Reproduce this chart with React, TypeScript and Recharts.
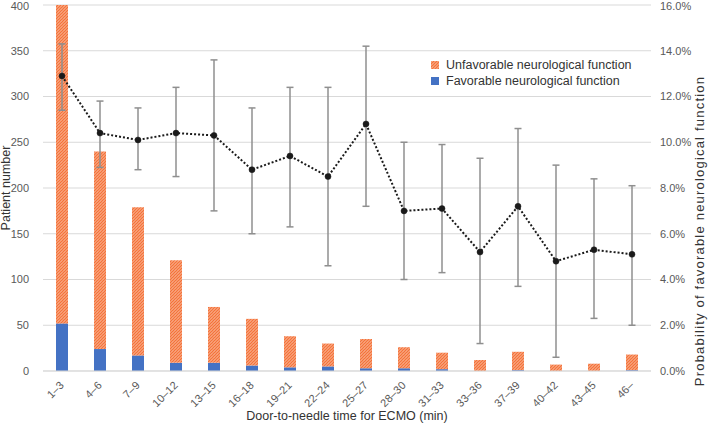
import React from 'react';
import { ComposedChart, Bar, Line, XAxis, YAxis, CartesianGrid, ErrorBar, Legend, Label } from 'recharts';

const categories = ['1–3', '4–6', '7–9', '10–12', '13–15', '16–18', '19–21', '22–24', '25–27', '28–30', '31–33', '33–36', '37–39', '40–42', '43–45', '46–'];
const favorable = [52, 24, 17, 9, 9, 6, 4, 5, 3, 3, 2, 0, 1, 0, 0, 1];
const unfavorable = [348, 216, 162, 112, 61, 51, 34, 25, 32, 23, 18, 12, 20, 7, 8, 17];
const probability = [12.9, 10.4, 10.1, 10.4, 10.3, 8.8, 9.4, 8.5, 10.8, 7.0, 7.1, 5.2, 7.2, 4.8, 5.3, 5.1];
const probabilityLow = [11.4, 8.9, 8.8, 8.5, 7.0, 6.0, 6.3, 4.6, 7.2, 4.0, 4.3, 1.2, 3.7, 0.6, 2.3, 2.0];
const probabilityHigh = [14.3, 11.8, 11.5, 12.4, 13.6, 11.5, 12.4, 12.4, 14.2, 10.0, 9.9, 9.3, 10.6, 9.0, 8.4, 8.1];
const leftTicks = [0, 50, 100, 150, 200, 250, 300, 350, 400];
const rightTicks = [0, 2, 4, 6, 8, 10, 12, 14, 16];

const data = categories.map((cat, i) => ({
  cat,
  fav: favorable[i],
  unfav: unfavorable[i],
  prob: probability[i],
  err: [probability[i] - probabilityLow[i], probabilityHigh[i] - probability[i]],
}));

const FONT = '"Liberation Sans", Arial, Helvetica, sans-serif';
const ORANGE = '#F4733A';
const BLUE = '#4472C4';

const XTick = (props: any) => {
  const { x, y, payload } = props;
  const ax = x + 2.5;
  const ay = y + 7;
  return (
    <text x={ax} y={ay} transform={`rotate(-45, ${ax}, ${ay})`} textAnchor="end" fontSize={11} fill="#595959" fontFamily={FONT}>
      {payload.value}
    </text>
  );
};

const HatchDef = ({ id }: { id: string }) => (
  <pattern id={id} patternUnits="userSpaceOnUse" width={3} height={3}>
    <rect width={3} height={3} fill="#fff4ee" />
    <path d="M-1,1 l2,-2 M0,3 l3,-3 M2,4 l2,-2" stroke={ORANGE} strokeWidth={1.6} />
  </pattern>
);

const LegendContent = (props: any) => {
  const items = (props.payload || []).filter((p: any) => p.dataKey === 'unfav' || p.dataKey === 'fav');
  items.sort((a: any) => (a.dataKey === 'unfav' ? -1 : 1));
  return (
    <div style={{ fontFamily: FONT, fontSize: 12.5, color: '#333' }}>
      {items.map((it: any) => (
        <div key={it.dataKey} style={{ display: 'flex', alignItems: 'center', height: 16 }}>
          <svg width={8} height={8} style={{ marginRight: 7 }}>
            <defs>
              <HatchDef id="legendHatch" />
            </defs>
            <rect width={8} height={8} fill={it.dataKey === 'unfav' ? 'url(#legendHatch)' : BLUE} />
          </svg>
          <span>{it.value}</span>
        </div>
      ))}
    </div>
  );
};

export default function App() {
  return (
    <div style={{ position: 'absolute', left: 0, top: 0, width: 709, height: 424, background: '#fff' }}>
      <ComposedChart width={709} height={424} data={data} margin={{ top: 5, right: 0, bottom: 0, left: 0 }}>
        <defs>
          <HatchDef id="barHatch" />
        </defs>
        <CartesianGrid vertical={false} stroke="#d9d9d9" strokeWidth={1} yAxisId="left" />
        <XAxis
          dataKey="cat"
          height={53}
          interval={0}
          tick={<XTick />}
          tickLine={false}
          tickSize={6}
          tickMargin={2}
          axisLine={{ stroke: '#d9d9d9' }}
        >
          <Label value="Door-to-needle time for ECMO (min)" position="insideBottom" offset={4} fontSize={12.5} fill="#333" fontFamily={FONT} />
        </XAxis>
        <YAxis
          yAxisId="left"
          width={43}
          domain={[0, 400]}
          ticks={leftTicks}
          tickLine={false}
          axisLine={false}
          tick={{ fontSize: 11, fill: '#595959', fontFamily: FONT }}
          tickSize={6}
          tickMargin={8}
        >
          <Label value="Patient number" angle={-90} position="center" dx={-15.5} fontSize={12.5} fill="#333" fontFamily={FONT} />
        </YAxis>
        <YAxis
          yAxisId="right"
          orientation="right"
          width={58}
          domain={[0, 16]}
          allowDataOverflow
          ticks={rightTicks}
          tickFormatter={(v: number) => `${v.toFixed(1)}%`}
          tickLine={false}
          axisLine={false}
          tick={{ fontSize: 11, fill: '#595959', fontFamily: FONT }}
          tickSize={6}
          tickMargin={3}
        >
          <Label
            value="Probability of favorable neurological function"
            angle={-90}
            position="center"
            dx={19.5}
            dy={43}
            fontSize={13}
            fill="#333"
            fontFamily={FONT}
            style={{ letterSpacing: '1.2px' }}
          />
        </YAxis>
        <Legend
          layout="vertical"
          align="center"
          verticalAlign="middle"
          content={<LegendContent />}
          wrapperStyle={{ left: 431, top: 57, width: 240 }}
        />
        <Bar yAxisId="left" dataKey="fav" name="Favorable neurological function" stackId="a" fill={BLUE} barSize={12} isAnimationActive={false} />
        <Bar yAxisId="left" dataKey="unfav" name="Unfavorable neurological function" stackId="a" fill="url(#barHatch)" barSize={12} isAnimationActive={false} />
        <Line
          yAxisId="right"
          dataKey="prob"
          type="linear"
          stroke="#1a1a1a"
          strokeWidth={2}
          strokeDasharray="2 2"
          dot={{ r: 3, fill: '#1a1a1a', stroke: '#1a1a1a', strokeWidth: 0.5, strokeDasharray: '' }}
          legendType="none"
          isAnimationActive={false}
        >
          <ErrorBar dataKey="err" direction="y" width={3.5} stroke="#8f8f8f" strokeWidth={1.5} />
        </Line>
      </ComposedChart>
    </div>
  );
}
